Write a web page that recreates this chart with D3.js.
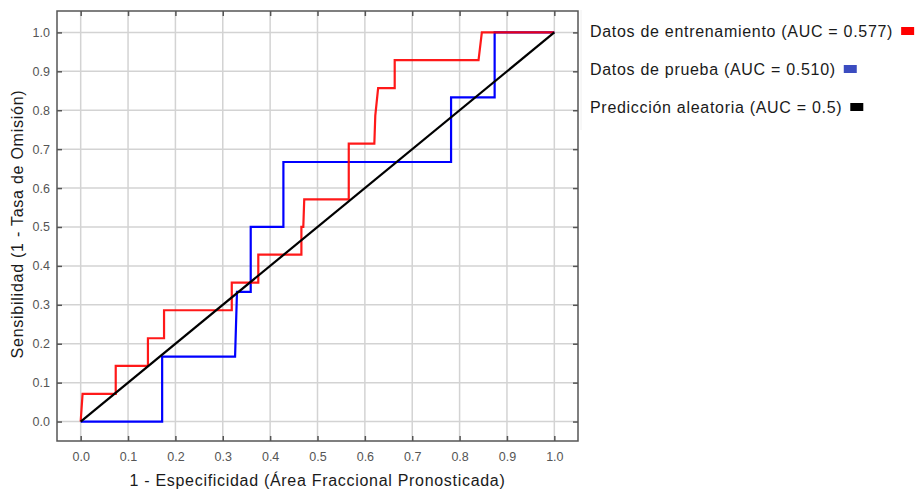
<!DOCTYPE html>
<html>
<head>
<meta charset="utf-8">
<script src="https://cdn.jsdelivr.net/npm/d3@7"></script>
<style>
  body { margin: 0; background: #fff; }
  svg { display: block; font-family: "Liberation Sans", Arial, sans-serif; }
</style>
</head>
<body>
<svg id="chart" width="917" height="492"></svg>
<script>
// ROC curve data (1 - specificity, sensitivity)
const trainX = [0, 0.004, 0.074, 0.074, 0.142, 0.142, 0.176, 0.176, 0.319, 0.319, 0.375, 0.375, 0.466, 0.466, 0.470, 0.472, 0.566, 0.566, 0.620, 0.622, 0.628, 0.663, 0.663, 0.840, 0.847, 1.0]
const trainY = [0, 0.071, 0.071, 0.143, 0.143, 0.214, 0.214, 0.286, 0.286, 0.357, 0.357, 0.429, 0.429, 0.5, 0.5, 0.571, 0.571, 0.714, 0.714, 0.786, 0.857, 0.857, 0.929, 0.929, 1.0, 1.0]
const testX = [0, 0.172, 0.172, 0.326, 0.330, 0.359, 0.359, 0.428, 0.428, 0.782, 0.782, 0.874, 0.874, 1.0]
const testY = [0, 0, 0.167, 0.167, 0.333, 0.333, 0.5, 0.5, 0.667, 0.667, 0.833, 0.833, 1.0, 1.0]
const randomX = [0, 1]
const randomY = [0, 1]

const ticks = [0, 0.1, 0.2, 0.3, 0.4, 0.5, 0.6, 0.7, 0.8, 0.9, 1.0]
const legendLabels = ['Datos de entrenamiento (AUC = 0.577)', 'Datos de prueba (AUC = 0.510)', 'Predicción aleatoria (AUC = 0.5)']

const colors = ['#ff0000', '#0000ff', '#000000']
const legendColors = ['#ff0000', '#3b4cc0', '#000000']

const svg = d3.select('#chart')

const margin = { left: 57, right: 578, top: 11, bottom: 441 }

const x = d3.scaleLinear().domain([-0.05, 1.05]).range([margin.left, margin.right])
const y = d3.scaleLinear().domain([-0.05, 1.055]).range([margin.bottom, margin.top])

// grid
svg.append('g').selectAll('line')
  .data(ticks).enter().append('line')
  .attr('x1', d => x(d)).attr('x2', d => x(d))
  .attr('y1', margin.top).attr('y2', margin.bottom)
  .attr('stroke', '#d3d3d3').attr('stroke-width', 1.5)

svg.append('g').selectAll('line')
  .data(ticks).enter().append('line')
  .attr('x1', margin.left).attr('x2', margin.right)
  .attr('y1', d => y(d)).attr('y2', d => y(d))
  .attr('stroke', '#d3d3d3').attr('stroke-width', 1.5)

// axes (ticks inward)
const fmt = d3.format('.1f')
const styleAxis = g => {
  g.select('.domain').remove()
  g.selectAll('.tick line').attr('stroke', '#555').attr('stroke-width', 1.5)
  g.selectAll('.tick text').attr('fill', '#555').style('font-size', '12.5px')
}

svg.append('g')
  .attr('transform', `translate(0, ${margin.bottom})`)
  .call(d3.axisBottom(x).tickValues(ticks).tickFormat(fmt).tickSizeInner(-5).tickSizeOuter(0).tickPadding(11))
  .call(styleAxis)

svg.append('g')
  .attr('transform', `translate(0, ${margin.top})`)
  .call(d3.axisTop(x).tickValues(ticks).tickFormat('').tickSizeInner(-5).tickSizeOuter(0))
  .call(styleAxis)

svg.append('g')
  .attr('transform', `translate(${margin.left}, 0)`)
  .call(d3.axisLeft(y).tickValues(ticks).tickFormat(fmt).tickSizeInner(-5).tickSizeOuter(0).tickPadding(7))
  .call(styleAxis)

svg.append('g')
  .attr('transform', `translate(${margin.right}, 0)`)
  .call(d3.axisRight(y).tickValues(ticks).tickFormat('').tickSizeInner(-5).tickSizeOuter(0))
  .call(styleAxis)

// frame
svg.append('rect')
  .attr('x', margin.left).attr('y', margin.top)
  .attr('width', margin.right - margin.left).attr('height', margin.bottom - margin.top)
  .attr('fill', 'none').attr('stroke', '#555').attr('stroke-width', 1.5)

// curves
const line = d3.line().x(d => x(d[0])).y(d => y(d[1]))
const series = [
  { xs: testX, ys: testY, color: colors[1], op: 1 },
  { xs: trainX, ys: trainY, color: colors[0], op: 0.9 },
  { xs: randomX, ys: randomY, color: colors[2], op: 1 }
]
series.forEach(s => {
  svg.append('path')
    .datum(d3.zip(s.xs, s.ys))
    .attr('d', line)
    .attr('fill', 'none')
    .attr('stroke', s.color)
    .attr('stroke-opacity', s.op)
    .attr('stroke-width', 2.2)
})

// axis titles
svg.append('text')
  .attr('x', (margin.left + margin.right) / 2)
  .attr('y', 486)
  .attr('text-anchor', 'middle')
  .attr('fill', '#1a1a1a')
  .style('font-size', '16px')
  .style('letter-spacing', '0.7px')
  .text('1 - Especificidad (Área Fraccional Pronosticada)')

svg.append('text')
  .attr('transform', `translate(23, 224) rotate(-90)`)
  .attr('text-anchor', 'middle')
  .attr('fill', '#1a1a1a')
  .style('font-size', '16px')
  .style('letter-spacing', '0.75px')
  .text('Sensibilidad (1 - Tasa de Omisión)')

// legend
svg.append('line')
  .attr('x1', 581).attr('x2', 581).attr('y1', 10).attr('y2', 130)
  .attr('stroke', '#f0f0f0')

const legendOrder = [0, 1, 2]
const leg = svg.append('g').selectAll('g')
  .data(legendOrder).enter().append('g')
  .attr('transform', (d, i) => `translate(590, ${31 + i * 38})`)

leg.append('text')
  .attr('dy', '0.35em')
  .attr('fill', '#1a1a1a')
  .style('font-size', '16px')
  .style('letter-spacing', '0.7px')
  .text(d => legendLabels[d])

leg.each(function (d) {
  const g = d3.select(this)
  const w = g.select('text').node().getComputedTextLength()
  g.append('rect')
    .attr('x', w + 8).attr('y', -4)
    .attr('width', 13).attr('height', 8)
    .attr('fill', legendColors[d])
})
</script>
</body>
</html>
